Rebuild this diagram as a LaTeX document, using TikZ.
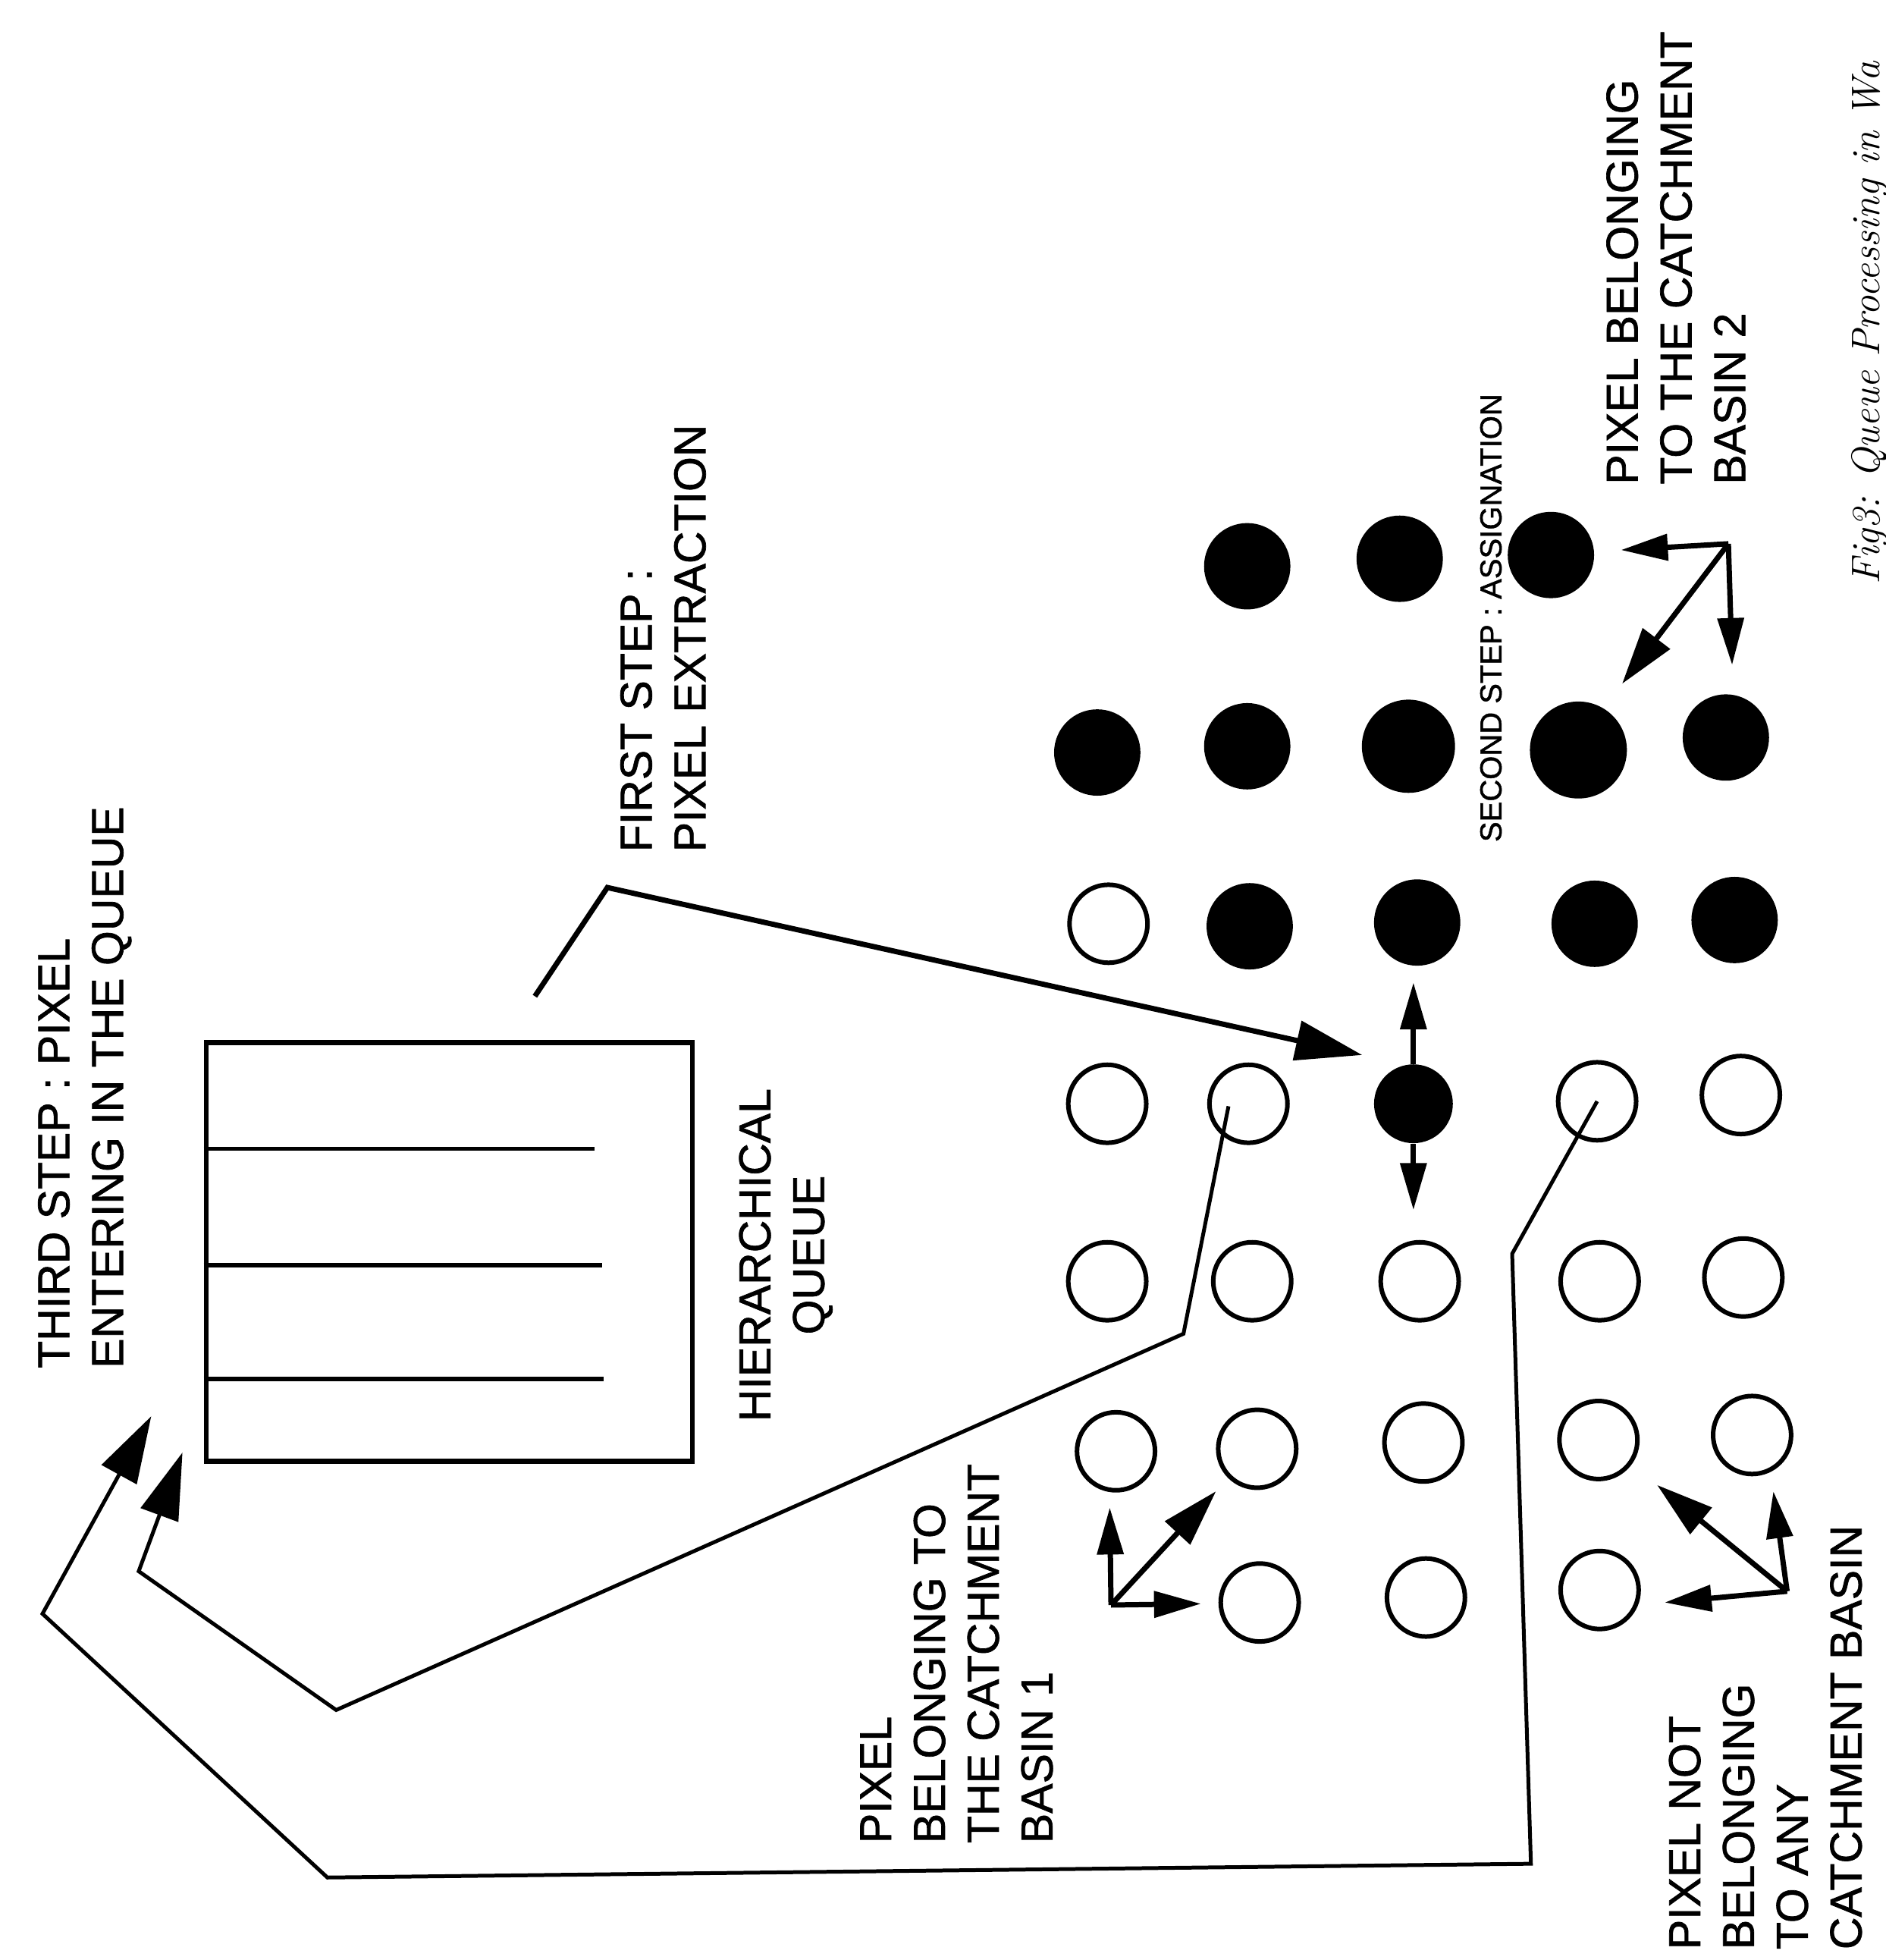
\documentclass[tikz,border=0pt]{standalone}
\usepackage{fontspec}
\newfontfamily\sansfam[FakeBold=1.2]{Liberation Sans}
\usetikzlibrary{arrows.meta, calc}

\begin{document}
\begin{tikzpicture}[
  x=0.165mm, y=-0.165mm,
  wire/.style     = {line width=0.7mm, line join=miter},
  thinwire/.style = {line width=0.5mm},
  pixfull/.style  = {circle, fill=black, draw=none, minimum size=11.4mm, inner sep=0pt},
  pixempty/.style = {circle, draw=black, fill=white, line width=0.6mm,
                     minimum size=10.3mm, inner sep=0pt},
  queuebox/.style = {draw=black, line width=0.65mm, minimum width=64.2mm,
                     minimum height=55.3mm, inner sep=0pt},
  bigtip/.style   = {-{Triangle[length=8.8mm, width=5.2mm]}},
  midtip/.style   = {-{Triangle[length=7.5mm, width=4.4mm]}},
  smalltip/.style = {-{Triangle[length=6.2mm, width=3.4mm]}},
  lbl/.style      = {font=\sansfam\fontsize{16.8}{20.2}\selectfont, rotate=90,
                     align=left, inner sep=0pt, anchor=north west},
  tinylbl/.style  = {font=\sansfam\fontsize{11.4}{13.5}\selectfont, rotate=90,
                     inner sep=0pt, anchor=north west},
  figcap/.style   = {font=\itshape\fontsize{15}{18}\selectfont, rotate=90,
                     inner sep=0pt, anchor=north west},
]
\useasboundingbox (0,0) rectangle (1509,1568);

% ── Hierarchical queue ────────────────────────────────────────────────────────
\node[queuebox] (queue) at (359.5,1001.5) {};
\foreach \y/\x in {919/476, 1012/482, 1103/483}{
  \draw[wire, line width=0.6mm] (queue.west |- 0,\y) -- (\x,\y);
}

% ── Pixel grid ────────────────────────────────────────────────────────────────
\foreach \n/\x/\y in {b1/998/453, c1/1120/447, d1/1241/444,
                      a2/878/602, b2/998/597, e2/1381/590,
                      b3/1000/741, c3/1134/738, d3/1276/739, e3/1388/736}{
  \node[pixfull] (\n) at (\x,\y) {};
}
\node[pixfull, minimum size=12.3mm] (c2) at (1127,597) {};
\node[pixfull, minimum size=12.8mm] (d2) at (1263,600) {};
\node[pixfull, minimum size=10.4mm] (c4) at (1131,883) {};

\foreach \n/\x/\y in {a3/887/739,
                      a4/886/883, b4/999/883, d4/1278/881, e4/1393/876,
                      a5/886/1025, b5/1002/1025, c5/1136/1025, d5/1280/1025, e5/1395/1022,
                      a6/893/1161, b6/1006/1159, c6/1139/1154, d6/1279/1152, e6/1402/1148,
                      b7/1008/1282, c7/1141/1278, d7/1280/1272}{
  \node[pixempty] (\n) at (\x,\y) {};
}

% ── First step : extraction ───────────────────────────────────────────────────
\coordinate (fsfoot) at (428,797);
\coordinate (fsknee) at (486,710);
\coordinate (fstip)  at (1090,844);
\draw[wire, bigtip] (fsfoot) -- (fsknee) -- (fstip);

% ── Second step : assignation ─────────────────────────────────────────────────
\coordinate (c4up) at (1131,786);
\coordinate (c4dn) at (1131,968);
\draw[wire, smalltip] (c4.north) -- (c4up);
\draw[wire, smalltip] (c4.south) -- (c4dn);

% ── Third step : back into the queue ──────────────────────────────────────────
\coordinate (qin1) at (146,1162);
\coordinate (qin2) at (121,1133);
\draw[thinwire, bigtip]
  ($(b4)+(-16,2)$) -- (947,1067) -- (269,1368) -- (111,1257) -- (qin1);
\draw[thinwire, bigtip]
  (d4.center) -- (1210,1003) -- (1225,1491) -- (262,1502) -- (34,1291) -- (qin2);

% ── Neighbourhood arrows ──────────────────────────────────────────────────────
\coordinate (bs1)   at (889,1284);
\coordinate (bs1up) at (888,1206);
\coordinate (bs1dg) at (973,1193);
\coordinate (bs1rt) at (961,1283);
\draw[wire, smalltip] (bs1) -- (bs1up);
\draw[wire, midtip]   (bs1) -- (bs1dg);
\draw[wire, smalltip] (bs1) -- (bs1rt);

\coordinate (nb)   at (1430,1273);
\coordinate (nbdg) at (1326,1188);
\coordinate (nbup) at (1419,1193);
\coordinate (nblt) at (1332,1282);
\draw[wire, midtip]   (nb) -- (nbdg);
\draw[wire, smalltip] (nb) -- (nbup);
\draw[wire, smalltip] (nb) -- (nblt);

\coordinate (bs2)   at (1383,435);
\coordinate (bs2lt) at (1297,440);
\coordinate (bs2dg) at (1298,547);
\coordinate (bs2dn) at (1386,532);
\draw[wire, smalltip] (bs2) -- (bs2lt);
\draw[wire, midtip]   (bs2) -- (bs2dg);
\draw[wire, smalltip] (bs2) -- (bs2dn);

% ── Labels ────────────────────────────────────────────────────────────────────
\node[lbl] (third)   at (30,1095)   {THIRD STEP : PIXEL\\ENTERING IN THE QUEUE};
\node[lbl] (first)   at (496,682)   {FIRST STEP :\\PIXEL EXTRACTION};
\node[lbl, align=center, anchor=north] (hq) at (591,1004) {HIERARCHICAL\\QUEUE};
\node[tinylbl] (second) at (1184,674) {SECOND STEP : ASSIGNATION};
\node[lbl] (basin2)  at (1285,388)  {PIXEL BELONGING\\TO THE CATCHMENT\\BASIN 2};
\node[lbl] (basin1)  at (688,1475)  {PIXEL\\BELONGING TO\\THE CATCHMENT\\BASIN 1};
\node[lbl] (nobasin) at (1335,1560) {PIXEL NOT\\BELONGING\\TO ANY\\CATCHMENT BASIN};
\node[figcap] (cap)  at (1481,468)  {Fig3: Queue Processing in Wa};

\end{tikzpicture}
\end{document}
